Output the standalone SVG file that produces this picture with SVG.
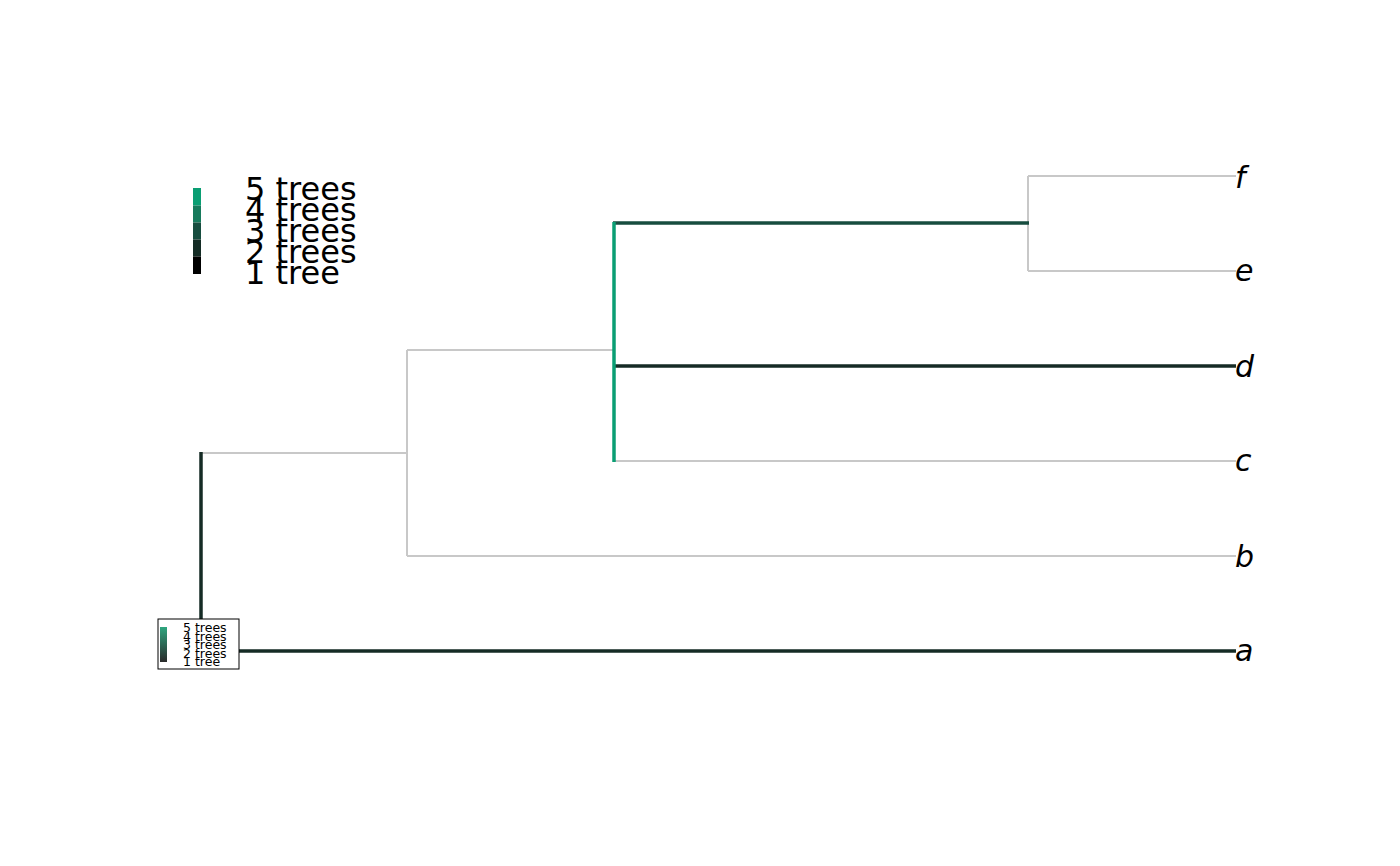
<svg xmlns="http://www.w3.org/2000/svg" width="1400" height="866" viewBox="0 0 1400 866">
<style>
.g{stroke:#c8c8c8;stroke-width:2;fill:none}
.t2{stroke:#152b25;stroke-width:3.5;fill:none}
.t3{stroke:#174d3f;stroke-width:3.5;fill:none}
.t5{stroke:#0a9e73;stroke-width:3.5;fill:none}
.lab{font-family:"DejaVu Sans",sans-serif;font-style:italic;font-size:30px;fill:#000}
.leg{font-family:"DejaVu Sans",sans-serif;font-size:32px;fill:#000}
.sleg{font-family:"DejaVu Sans",sans-serif;font-size:12.5px;fill:#000}
</style>
<defs>
<linearGradient id="sg" x1="0" y1="0" x2="0" y2="1">
<stop offset="0" stop-color="#2fa67f"/>
<stop offset="1" stop-color="#2a2a2a"/>
</linearGradient>
</defs>
<rect width="1400" height="866" fill="#fff"/>
<g id="connectors">
<line class="g" x1="201" y1="453" x2="407" y2="453"/>
<line class="g" x1="407" y1="350" x2="407" y2="556"/>
<line class="g" x1="407" y1="556" x2="1236" y2="556"/>
<line class="g" x1="407" y1="350" x2="613" y2="350"/>
<line class="g" x1="613" y1="461" x2="1236" y2="461"/>
<line class="g" x1="1028" y1="176" x2="1028" y2="271"/>
<line class="g" x1="1028" y1="176" x2="1236" y2="176"/>
<line class="g" x1="1028" y1="271" x2="1236" y2="271"/>
<line class="t2" x1="201" y1="651" x2="1236" y2="651"/>
<line class="t2" x1="201" y1="452" x2="201" y2="651"/>
<line class="t2" x1="613" y1="366" x2="1236" y2="366"/>
<line class="t3" x1="613" y1="223" x2="1029" y2="223"/>
<line class="t5" x1="614" y1="222" x2="614" y2="462"/>
</g>
<g id="tip-f"><text class="lab" x="1235" y="188">f</text></g>
<g id="tip-e"><text class="lab" x="1235" y="281">e</text></g>
<g id="tip-d"><text class="lab" x="1235" y="377">d</text></g>
<g id="tip-c"><text class="lab" x="1235" y="471">c</text></g>
<g id="tip-b"><text class="lab" x="1235" y="567">b</text></g>
<g id="tip-a"><text class="lab" x="1235" y="661">a</text></g>
<g id="legend">
<rect x="193" y="188" width="8" height="17.5" fill="#0a9e73"/>
<rect x="193" y="205.5" width="8" height="17" fill="#177a5c"/>
<rect x="193" y="222.5" width="8" height="17" fill="#174d3f"/>
<rect x="193" y="239.5" width="8" height="17" fill="#142c25"/>
<rect x="193" y="256.5" width="8" height="17.5" fill="#000"/>
<text class="leg" x="245" y="200">5 trees</text>
<text class="leg" x="245" y="221">4 trees</text>
<text class="leg" x="245" y="242">3 trees</text>
<text class="leg" x="245" y="263">2 trees</text>
<text class="leg" x="245" y="284">1 tree</text>
</g>
<g id="small-legend">
<rect x="158" y="619" width="81" height="50" fill="#fff" stroke="#000" stroke-width="1"/>
<rect x="160" y="627" width="7" height="35" fill="url(#sg)"/>
<text class="sleg" x="183" y="632">5 trees</text>
<text class="sleg" x="183" y="641">4 trees</text>
<text class="sleg" x="183" y="649">3 trees</text>
<text class="sleg" x="183" y="658">2 trees</text>
<text class="sleg" x="183" y="666">1 tree</text>
</g>
</svg>
